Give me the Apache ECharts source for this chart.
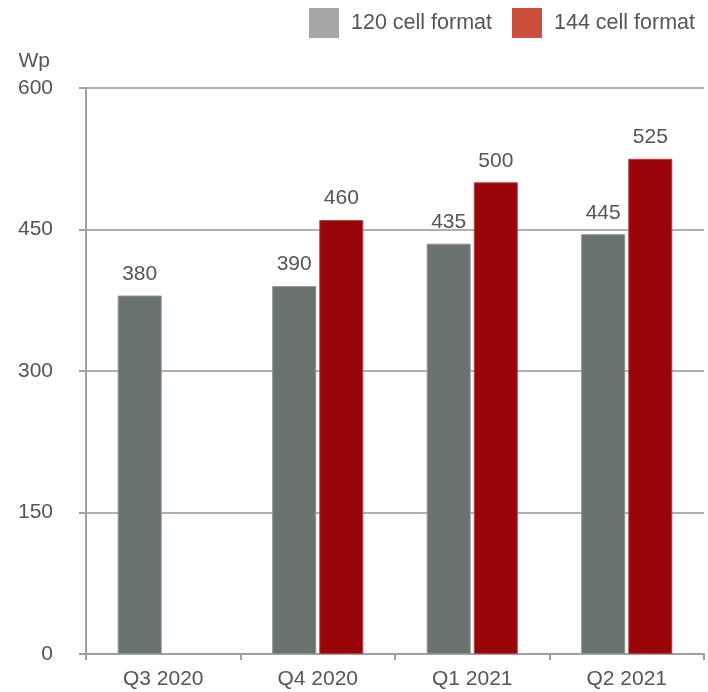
<!DOCTYPE html>
<html>
<head>
<meta charset="utf-8">
<script src="https://cdn.jsdelivr.net/npm/echarts@6/dist/echarts.min.js"></script>
<style>html,body{margin:0;padding:0;background:#fff}#c{width:708px;height:692px}</style>
</head>
<body>
<div id="c"></div>
<script>
const categories = ['Q3 2020', 'Q4 2020', 'Q1 2021', 'Q2 2021'];
const cell120 = [380, 390, 435, 445];
const cell144 = [null, 460, 500, 525];
const yTicks = [0, 150, 300, 450, 600];

const chart = echarts.init(document.getElementById('c'));
const font = 'Helvetica, Arial, "Liberation Sans", sans-serif';
chart.setOption({
  animation: false,
  textStyle: { fontFamily: font },
  legend: {
    top: 3, right: 8,
    itemWidth: 30, itemHeight: 30, itemGap: 20,
    textStyle: { fontSize: 21.5, color: '#555', fontFamily: font, padding: [0, 0, 0, 7] },
    data: [
      { name: '120 cell format', icon: 'rect', itemStyle: { color: '#a6a6a6', borderWidth: 0 } },
      { name: '144 cell format', icon: 'rect', itemStyle: { color: '#cb4e3c', borderWidth: 0 } }
    ]
  },
  grid: { left: 86, right: 4, top: 88, bottom: 38 },
  xAxis: {
    type: 'category',
    data: categories,
    axisLine: { lineStyle: { color: '#a0a0a0', width: 2 } },
    axisTick: { show: true, length: 6, lineStyle: { color: '#a0a0a0', width: 2 } },
    axisLabel: { fontSize: 21, color: '#555', margin: 15, fontFamily: font }
  },
  yAxis: {
    type: 'value',
    min: yTicks[0], max: yTicks[yTicks.length - 1], interval: 150,
    name: 'Wp',
    nameLocation: 'end',
    nameGap: 16,
    nameTextStyle: { fontSize: 21, color: '#555', align: 'right', padding: [0, 36, 0, 0], fontFamily: font },
    axisLine: { show: true, lineStyle: { color: '#a0a0a0', width: 2 } },
    axisTick: { show: true, length: 7, lineStyle: { color: '#a0a0a0', width: 2 } },
    splitLine: { lineStyle: { color: '#b0b0b0', width: 2 } },
    axisLabel: { fontSize: 21, color: '#555', margin: 33, fontFamily: font }
  },
  series: [
    {
      name: '120 cell format', type: 'bar', data: cell120,
      barWidth: 44, barGap: '7%',
      itemStyle: { color: '#6b736f', borderColor: '#8d9490', borderWidth: 1 },
      label: { show: true, position: 'top', distance: 11, fontSize: 21, color: '#555', fontFamily: font }
    },
    {
      name: '144 cell format', type: 'bar', data: cell144,
      barWidth: 44,
      itemStyle: { color: '#9a0509', borderColor: '#b04045', borderWidth: 1 },
      label: { show: true, position: 'top', distance: 11, fontSize: 21, color: '#555', fontFamily: font }
    }
  ]
});
</script>
</body>
</html>
